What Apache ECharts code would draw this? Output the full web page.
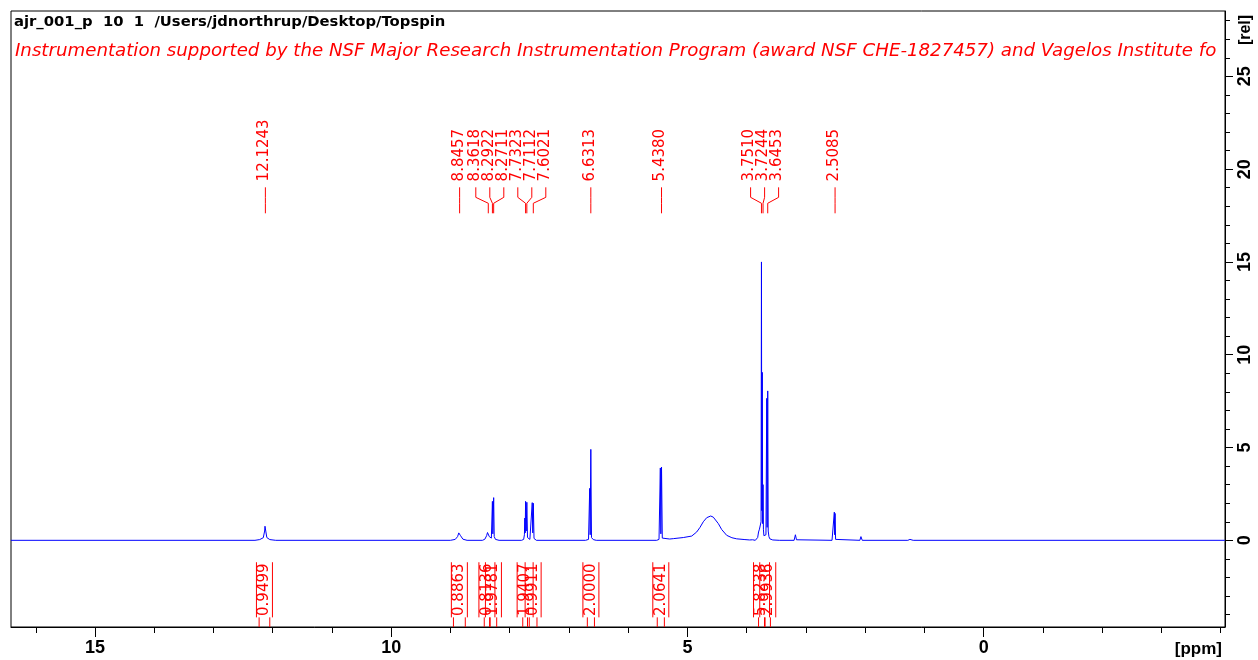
<!DOCTYPE html>
<html>
<head>
<meta charset="utf-8">
<title>ajr_001_p 10 1</title>
<script src="https://cdn.jsdelivr.net/npm/echarts@6/dist/echarts.min.js"></script>
<style>
  html, body { margin: 0; padding: 0; background: #fff; }
  #chart { width: 1258px; height: 660px; }
</style>
</head>
<body>
<div id="chart"></div>
<script>
// header lines
const titleText = 'ajr_001_p  10  1  /Users/jdnorthrup/Desktop/Topspin';
const noteText = 'Instrumentation supported by the NSF Major Research Instrumentation Program (award NSF CHE-1827457) and Vagelos Institute for Energy Science and Technology';

// spectrum trace: [ppm, intensity (rel)]
const spectrum = [
  [16.42, 0], [12.30, 0], [12.22, 0.04], [12.16, 0.14], [12.137, 0.5], [12.131, 0.76], [12.124, 0.78],
  [12.118, 0.5], [12.10, 0.15], [12.05, 0.04], [11.95, 0],
  [9.00, 0], [8.92, 0.05], [8.88, 0.2], [8.86, 0.4], [8.845, 0.42], [8.83, 0.25], [8.79, 0.06], [8.72, 0],
  [8.46, 0], [8.42, 0.06], [8.39, 0.25], [8.375, 0.42], [8.362, 0.4], [8.345, 0.2], [8.31, 0.12],
  [8.297, 0.2], [8.2922, 2.1], [8.285, 0.35], [8.2711, 2.3], [8.262, 0.2], [8.24, 0.05], [8.18, 0],
  [7.80, 0], [7.765, 0.05], [7.752, 0.3], [7.745, 1.2], [7.739, 0.4], [7.7323, 2.1], [7.722, 0.5],
  [7.7112, 2.05], [7.70, 0.15], [7.66, 0.05], [7.63, 0.12], [7.62, 2.03], [7.611, 0.4], [7.6021, 2.0],
  [7.59, 0.1], [7.55, 0],
  [6.72, 0], [6.67, 0.05], [6.655, 0.15], [6.65, 2.8], [6.642, 0.3], [6.6313, 4.9], [6.62, 0.15],
  [6.59, 0.04], [6.54, 0],
  [5.52, 0], [5.48, 0.05], [5.465, 0.15], [5.458, 3.9], [5.449, 0.35], [5.438, 3.95], [5.425, 0.12],
  [5.40, 0.07], [5.30, 0.07], [5.239, 0.09], [5.07, 0.15], [4.928, 0.23], [4.844, 0.45], [4.788, 0.7],
  [4.733, 1.0], [4.675, 1.22], [4.608, 1.31], [4.564, 1.25], [4.479, 0.9], [4.422, 0.58], [4.338, 0.27],
  [4.25, 0.14], [4.169, 0.08], [4.03, 0.04], [3.95, 0.02],
  [3.90, 0.03], [3.87, 0.05], [3.855, 0.0], [3.835, 0.06], [3.815, 0.15], [3.80, 0.45], [3.785, 0.6],
  [3.768, 0.65], [3.758, 1.0], [3.751, 15.0], [3.746, 1.6], [3.737, 9.05], [3.731, 0.9], [3.7244, 3.0],
  [3.718, 0.6], [3.71, 0.25], [3.70, 0.3], [3.69, 0.18], [3.675, 0.3], [3.662, 7.65], [3.655, 0.7],
  [3.6453, 8.05], [3.637, 0.5], [3.625, 0.2], [3.61, 0.08], [3.58, 0.12], [3.56, 0.02], [3.45, 0],
  [3.20, 0], [3.185, 0.05], [3.178, 0.3], [3.171, 0.28], [3.16, 0.03], [3.14, 0],
  [2.56, 0], [2.53, 0.05], [2.521, 1.52], [2.515, 0.3], [2.5085, 1.45], [2.50, 0.05], [2.47, 0],
  [2.09, 0], [2.072, 0.2], [2.064, 0.18], [2.05, 0],
  [1.28, 0], [1.245, 0.05], [1.235, 0.08], [1.225, 0.05], [1.19, 0],
  [-4.07, 0]
];

// picked peaks (ppm), labelled along the top
const peakPpm = [12.1243, 8.8457, 8.3618, 8.2922, 8.2711, 7.7323, 7.7112, 7.6021,
  6.6313, 5.4380, 3.7510, 3.7244, 3.6453, 2.5085];

// integral regions (ppm) and their values
const integralFrom = [12.23, 8.95, 8.43, 8.33, 7.78, 7.67, 6.69, 5.51, 3.80, 3.69];
const integralTo = [12.05, 8.75, 8.34, 8.22, 7.70, 7.54, 6.57, 5.39, 3.70, 3.60];
const integralValue = ['0.9499', '0.8863', '0.8136', '1.9781', '1.9407', '0.9911',
  '2.0000', '2.0641', '5.8238', '2.9936'];

// axis ticks
const xMinorTicks = [16, 15, 14, 13, 12, 11, 10, 9, 8, 7, 6, 5, 4, 3, 2, 1, 0, -1, -2, -3, -4];
const xMajorTicks = [15, 10, 5, 0];
const yMinorTicks = [-4, -3, -2, -1, 0, 1, 2, 3, 4, 5, 6, 7, 8, 9, 10, 11, 12, 13, 14, 15, 16,
  17, 18, 19, 20, 21, 22, 23, 24, 25, 26, 27, 28];
const yMajorTicks = [0, 5, 10, 15, 20, 25];

const X_MIN = -4.073, X_MAX = 16.418;
const Y_MIN = -4.67, Y_MAX = 28.52;

const RED = '#ff0000';
const BLUE = '#0000ff';
const LABEL_FONT = '15px "DejaVu Sans", sans-serif';
const AXIS_FONT = '"Liberation Sans", Arial, sans-serif';

// spread label positions so neighbours are at least `gap` px apart,
// each crowded group centred between its outermost peaks
function spreadLabels(xs, gap) {
  let groups = xs.map(x => ({ lo: x, hi: x, n: 1, left: x }));
  let merged = true;
  while (merged) {
    merged = false;
    for (let i = 0; i < groups.length - 1; i++) {
      const a = groups[i], b = groups[i + 1];
      if (a.left + a.n * gap > b.left) {
        const n = a.n + b.n;
        const lo = Math.min(a.lo, b.lo), hi = Math.max(a.hi, b.hi);
        groups.splice(i, 2, { lo, hi, n, left: (lo + hi) / 2 - (n - 1) * gap / 2 });
        merged = true;
        break;
      }
    }
  }
  const out = [];
  groups.forEach(g => { for (let k = 0; k < g.n; k++) out.push(g.left + k * gap); });
  return out;
}

function renderPeak(params, api) {
  const i = params.dataIndex;
  const xs = peakPpm.map(p => api.coord([p, 0])[0]);
  const lx = spreadLabels(xs, 14)[i];
  const px = xs[i];
  const yText = api.coord([0, 19.34])[1];
  const y1 = api.coord([0, 19.02])[1];
  const y2 = api.coord([0, 18.48])[1];
  const y3 = api.coord([0, 18.16])[1];
  const y4 = api.coord([0, 17.62])[1];
  return {
    type: 'group',
    children: [
      {
        type: 'polyline',
        shape: { points: [[lx, y1], [lx, y2], [px, y3], [px, y4]] },
        style: { stroke: RED, lineWidth: 1, fill: null }
      },
      {
        type: 'text',
        x: lx - 1,
        y: yText,
        rotation: Math.PI / 2,
        style: { text: peakPpm[i].toFixed(4), fill: RED, font: LABEL_FONT, align: 'left', verticalAlign: 'middle' }
      }
    ]
  };
}

function renderIntegral(params, api) {
  const i = params.dataIndex;
  const a = api.coord([api.value(0), 0])[0];
  const b = api.coord([api.value(1), 0])[0];
  const cx = (a + b) / 2;
  const yTop = api.coord([0, -1.18])[1];
  const yBox = api.coord([0, -4.15])[1];
  const yEnd = api.coord([0, Y_MIN])[1];
  const yMid = api.coord([0, -2.66])[1];
  const line = (x1, ya, x2, yb) => ({
    type: 'line',
    shape: { x1, y1: ya, x2, y2: yb },
    style: { stroke: RED, lineWidth: 1 }
  });
  return {
    type: 'group',
    children: [
      line(cx - 8, yTop, cx - 8, yBox),
      line(cx + 8, yTop, cx + 8, yBox),
      line(a, yBox, a, yEnd),
      line(b, yBox, b, yEnd),
      {
        type: 'text',
        x: cx,
        y: yMid,
        rotation: Math.PI / 2,
        style: { text: integralValue[i], fill: RED, font: LABEL_FONT, align: 'center', verticalAlign: 'middle' }
      }
    ]
  };
}

const chart = echarts.init(document.getElementById('chart'), null, { renderer: 'canvas' });

const option = {
  animation: false,
  backgroundColor: '#fff',
  grid: {
    left: 11, top: 11, right: 33, bottom: 33,
    show: true, borderColor: '#000', borderWidth: 1,
    containLabel: false, outerBoundsMode: 'none'
  },
  xAxis: [
    {
      type: 'value', min: X_MIN, max: X_MAX, inverse: true, position: 'bottom',
      axisLine: { show: true, onZero: false, lineStyle: { color: '#000', width: 1 } },
      axisTick: { show: true, customValues: xMinorTicks, length: 6, lineStyle: { color: '#000' } },
      axisLabel: { show: false },
      splitLine: { show: false }
    },
    {
      type: 'value', min: X_MIN, max: X_MAX, inverse: true, position: 'bottom',
      axisLine: { show: false, onZero: false },
      axisTick: { show: true, customValues: xMajorTicks, length: 10, lineStyle: { color: '#000' } },
      axisLabel: {
        customValues: xMajorTicks, margin: 12, color: '#000',
        fontSize: 18, fontWeight: 'bold', fontFamily: AXIS_FONT
      },
      splitLine: { show: false }
    }
  ],
  yAxis: [
    {
      type: 'value', min: Y_MIN, max: Y_MAX, position: 'right',
      axisLine: { show: true, onZero: false, lineStyle: { color: '#000', width: 1 } },
      axisTick: { show: true, customValues: yMinorTicks, length: 5, lineStyle: { color: '#000' } },
      axisLabel: { show: false },
      splitLine: { show: false }
    },
    {
      type: 'value', min: Y_MIN, max: Y_MAX, position: 'right',
      axisLine: { show: false, onZero: false },
      axisTick: { show: true, customValues: yMajorTicks, length: 8, lineStyle: { color: '#000' } },
      axisLabel: {
        customValues: yMajorTicks, rotate: 90, margin: 11, color: '#000',
        fontSize: 18, fontWeight: 'bold', fontFamily: AXIS_FONT
      },
      splitLine: { show: false }
    }
  ],
  graphic: [
    {
      type: 'text', left: 14, top: 15,
      style: { text: titleText, fill: '#000', font: 'bold 14.8px "DejaVu Sans", sans-serif' }
    },
    {
      type: 'text', left: 15, top: 42,
      style: {
        text: noteText, fill: RED, font: 'italic 18.2px "DejaVu Sans", sans-serif',
        width: 1209, overflow: 'truncate', ellipsis: ''
      }
    },
    {
      type: 'text', x: 1246, y: 30, rotation: Math.PI / 2,
      style: { text: '[rel]', fill: '#000', font: 'bold 16px ' + AXIS_FONT, align: 'center', verticalAlign: 'middle' }
    },
    {
      type: 'text', x: 1222, y: 649,
      style: { text: '[ppm]', fill: '#000', font: 'bold 17px ' + AXIS_FONT, align: 'right', verticalAlign: 'middle' }
    }
  ],
  series: [
    {
      name: 'spectrum',
      type: 'line',
      xAxisIndex: 0, yAxisIndex: 0,
      data: spectrum,
      showSymbol: false,
      sampling: 'none',
      lineStyle: { color: BLUE, width: 1 },
      silent: true,
      z: 3
    },
    {
      name: 'peaks',
      type: 'custom',
      xAxisIndex: 0, yAxisIndex: 0,
      data: peakPpm.map(p => [p, 0]),
      renderItem: renderPeak,
      silent: true,
      z: 4
    },
    {
      name: 'integrals',
      type: 'custom',
      xAxisIndex: 0, yAxisIndex: 0,
      data: integralFrom.map((f, i) => [f, integralTo[i]]),
      encode: { x: [0, 1] },
      renderItem: renderIntegral,
      silent: true,
      z: 4
    }
  ]
};

chart.setOption(option);
</script>
</body>
</html>
